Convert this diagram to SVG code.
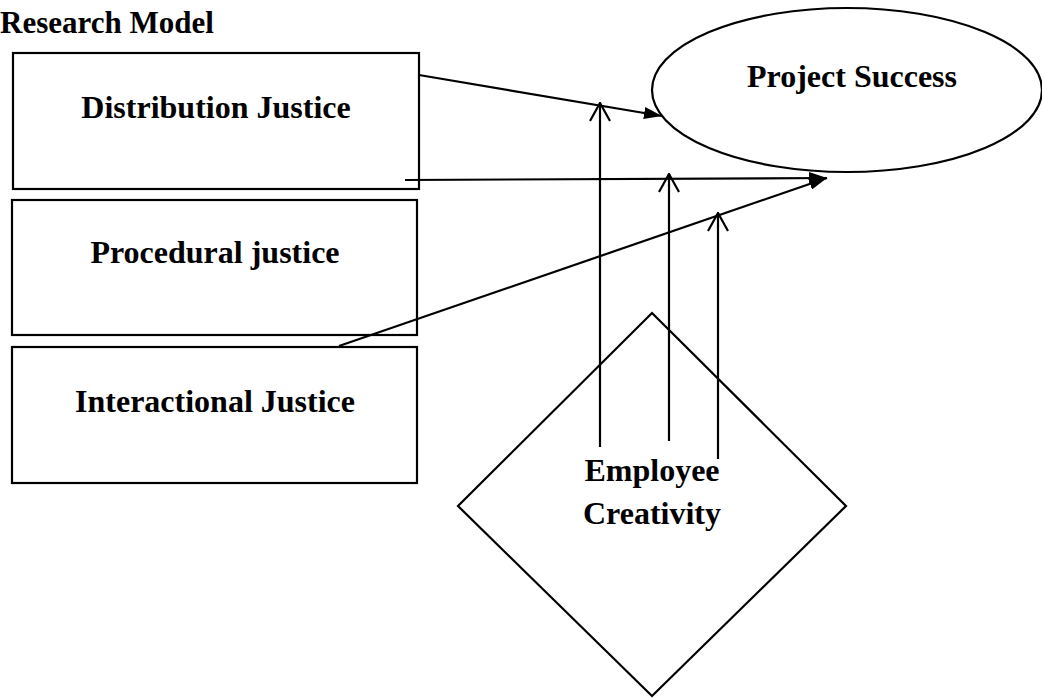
<svg xmlns="http://www.w3.org/2000/svg" width="1042" height="698" viewBox="0 0 1042 698">
  <style>
    .shape { fill: #ffffff; stroke: #000000; stroke-width: 2.2; }
    .lbl { font-family: "Liberation Serif", "Times New Roman", serif; font-weight: bold; font-size: 32px; fill: #000000; text-anchor: middle; }
    .title { font-family: "Liberation Serif", "Times New Roman", serif; font-weight: bold; font-size: 31px; fill: #000000; }
    .conn { fill: none; stroke: #000000; stroke-width: 2.2; }
  </style>
  <defs>
    <marker id="solid" viewBox="0 0 18 12" refX="18" refY="6" markerWidth="18" markerHeight="12" markerUnits="userSpaceOnUse" orient="auto">
      <path d="M0,0 L18,6 L0,12 Z" fill="#000000"/>
    </marker>
    <marker id="open" viewBox="0 0 20 22" refX="19" refY="11" markerWidth="20" markerHeight="22" markerUnits="userSpaceOnUse" orient="auto">
      <path d="M1,1 L19,11 L1,21" fill="none" stroke="#000000" stroke-width="2.2"/>
    </marker>
  </defs>

  <rect width="1042" height="698" fill="#ffffff"/>

  <text class="title" x="0" y="33">Research Model</text>

  <g id="distribution-justice">
    <rect class="shape" x="13" y="53" width="406" height="136"/>
    <text class="lbl" x="216" y="118">Distribution Justice</text>
  </g>

  <g id="procedural-justice">
    <rect class="shape" x="12" y="200" width="405" height="135"/>
    <text class="lbl" x="215" y="263">Procedural justice</text>
  </g>

  <g id="interactional-justice">
    <rect class="shape" x="12" y="347" width="405" height="136"/>
    <text class="lbl" x="215" y="412">Interactional Justice</text>
  </g>

  <g id="project-success">
    <ellipse class="shape" cx="847" cy="90" rx="195" ry="82"/>
    <text class="lbl" x="852" y="87">Project Success</text>
  </g>

  <g id="employee-creativity">
    <polygon class="shape" points="652,313 846,506 652,696 458,506"/>
    <text class="lbl" x="652" y="481">Employee</text>
    <text class="lbl" x="652" y="524">Creativity</text>
  </g>

  <g id="connectors">
    <line class="conn" x1="419" y1="75" x2="662" y2="116" marker-end="url(#solid)"/>
    <line class="conn" x1="405" y1="180" x2="827" y2="178" marker-end="url(#solid)"/>
    <line class="conn" x1="339" y1="346" x2="827" y2="178" marker-end="url(#solid)"/>
    <line class="conn" x1="600" y1="447" x2="600" y2="103" marker-end="url(#open)"/>
    <line class="conn" x1="669" y1="441" x2="669" y2="174" marker-end="url(#open)"/>
    <line class="conn" x1="718" y1="459" x2="718" y2="213" marker-end="url(#open)"/>
  </g>
</svg>
